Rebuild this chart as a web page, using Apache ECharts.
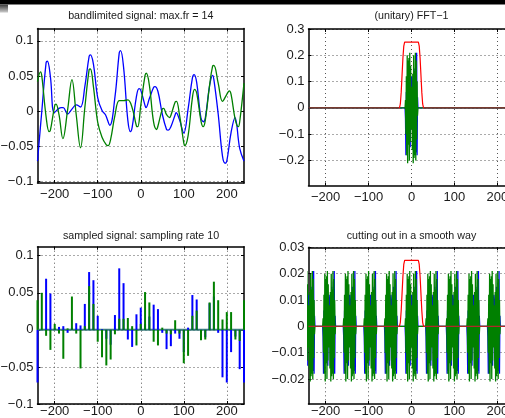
<!DOCTYPE html>
<html><head><meta charset="utf-8">
<style>html,body{margin:0;padding:0;background:#fff}#c{width:505px;height:418px}</style>
<script src="https://cdn.jsdelivr.net/npm/echarts@6/dist/echarts.min.js"></script>
</head><body><div id="c"></div>
<script>
// ---- data ----
const xTicks = [-200, -100, 0, 100, 200];
const yTicksTL = [-0.1, -0.05, 0, 0.05, 0.1];
const yTicksTR = [-0.2, -0.1, 0, 0.1, 0.2, 0.3];
const yTicksBL = [-0.1, -0.05, 0, 0.05, 0.1];
const yTicksBR = [-0.02, -0.01, 0, 0.01, 0.02, 0.03];

// bandlimited signal (knots)
const blueCurve = [[-240,-0.071],[-230,0.0],[-220,0.069],[-217,0.071],[-210,0.049],[-201,-0.002],[-190,0.004],[-185,0.005],[-180,0.005],[-170,-0.004],[-160,0.003],[-150,0.009],[-140,0.006],[-130,0.035],[-120,0.078],[-117,0.080],[-110,0.067],[-100,0.019],[-90,0.001],[-82,-0.005],[-72,-0.020],[-60,0.020],[-50,0.083],[-47,0.086],[-40,0.063],[-30,-0.013],[-24,-0.029],[-20,-0.023],[-10,0.021],[-4,0.032],[0,0.030],[10,0.008],[12,0.005],[20,0.018],[30,0.034],[33,0.035],[40,0.028],[50,-0.004],[60,-0.026],[64,-0.027],[70,-0.022],[80,-0.005],[82,-0.002],[90,-0.012],[100,-0.031],[110,0.003],[120,0.047],[124,0.052],[130,0.041],[140,-0.010],[146,-0.015],[150,-0.010],[160,0.036],[167,0.051],[170,0.045],[180,-0.004],[190,-0.064],[196,-0.074],[200,-0.071],[210,-0.030],[219,-0.009],[230,-0.053],[240,-0.071]];
const greenCurve = [[-240,0.042],[-233,0.056],[-230,0.050],[-220,-0.008],[-213,-0.029],[-210,-0.027],[-200,0.008],[-197,0.010],[-190,-0.005],[-181,-0.039],[-170,0.002],[-160,0.045],[-150,-0.005],[-140,-0.052],[-130,0.005],[-120,0.059],[-117,0.060],[-110,0.035],[-100,-0.016],[-90,-0.037],[-80,-0.048],[-76,-0.049],[-70,-0.040],[-60,-0.006],[-50,0.015],[-40,0.015],[-30,0.016],[-20,0.005],[-10,-0.021],[-7,-0.022],[0,0.008],[10,0.051],[13,0.054],[20,0.037],[30,-0.016],[37,-0.026],[40,-0.021],[50,0.003],[53,0.004],[60,-0.005],[67,-0.009],[70,-0.006],[80,0.013],[83,0.014],[90,-0.005],[100,-0.045],[102,-0.049],[110,-0.035],[120,0.019],[125,0.031],[130,0.026],[140,-0.014],[145,-0.022],[150,-0.013],[160,0.037],[167,0.064],[170,0.065],[180,0.040],[190,0.014],[200,0.024],[206,0.029],[210,0.024],[220,-0.013],[227,-0.022],[230,-0.015],[240,0.040]];

// sampled signal, every 10 units
const sampleX = [-240,-230,-220,-210,-200,-190,-180,-170,-160,-150,-140,-130,-120,-110,-100,-90,-80,-70,-60,-50,-40,-30,-20,-10,0,10,20,30,40,50,60,70,80,90,100,110,120,130,140,150,160,170,180,190,200,210,220,230,240];
const blueSamples = [-0.071,0.000,0.069,0.049,0.002,0.004,0.005,-0.004,0.003,0.009,0.006,0.035,0.078,0.067,0.019,0.001,-0.012,-0.020,0.020,0.083,0.063,-0.013,-0.023,0.021,0.030,0.008,0.018,0.034,0.028,-0.004,-0.026,-0.022,-0.005,-0.012,-0.030,0.003,0.047,0.041,-0.010,-0.010,0.036,0.045,-0.004,-0.064,-0.071,-0.030,-0.009,-0.053,-0.071];
const greenSamples = [0.040,0.050,-0.008,-0.027,0.008,-0.005,-0.039,0.002,0.045,-0.005,-0.052,0.005,0.059,0.035,-0.016,-0.037,-0.048,-0.040,-0.006,0.015,0.015,0.016,0.005,-0.021,0.008,0.051,0.037,-0.016,-0.021,0.003,-0.005,-0.006,0.013,-0.005,-0.045,-0.035,0.019,0.026,-0.014,-0.013,0.037,0.065,0.040,0.014,0.024,0.024,-0.013,-0.015,0.040];

// unitary FFT, frequencies -14..14
const fftK = [-14,-13,-12,-11,-10,-9,-8,-7,-6,-5,-4,-3,-2,-1,0,1,2,3,4,5,6,7,8,9,10,11,12,13,14];
const blueFFT = [-0.04,-0.18,0.06,-0.17,0.10,-0.12,0.07,-0.10,0.15,-0.08,0.12,-0.15,0.06,0.10,0.12,0.10,0.06,-0.15,0.12,-0.08,0.15,-0.10,0.07,-0.12,0.17,-0.17,0.21,-0.18,0.04];
const greenFFT = [0.03,-0.10,0.12,-0.18,0.20,-0.21,0.18,-0.14,0.19,-0.20,0.21,-0.13,0.16,-0.08,0,0.08,-0.16,0.13,-0.21,0.20,-0.19,0.14,-0.18,0.21,-0.20,0.18,-0.12,0.10,-0.03];
const windowTop = [[-240,0],[-28,0],[-26,0.015],[-24,0.06],[-22,0.125],[-20,0.19],[-18,0.235],[-16,0.25],[16,0.25],[18,0.235],[20,0.19],[22,0.125],[24,0.06],[26,0.015],[28,0],[240,0]];

// spectrum of sampled signal: one burst (x0.1) repeated every 48
const burstCenters = [-240,-192,-144,-96,-48,0,48,96,144,192,240];
const blueBurst = [-0.004,-0.018,0.006,-0.017,0.010,-0.012,0.007,-0.010,0.015,-0.008,0.012,-0.015,0.006,0.010,0.012,0.010,0.006,-0.015,0.012,-0.008,0.015,-0.010,0.007,-0.012,0.017,-0.017,0.021,-0.018,0.004];
const greenBurst = [0.003,-0.010,0.012,-0.018,0.020,-0.021,0.018,-0.014,0.019,-0.020,0.021,-0.013,0.016,-0.008,0,0.008,-0.016,0.013,-0.021,0.020,-0.019,0.014,-0.018,0.021,-0.020,0.018,-0.012,0.010,-0.003];
const windowBottom = [[-240,0],[-28,0],[-26,0.0015],[-24,0.006],[-22,0.0125],[-20,0.019],[-18,0.0235],[-16,0.025],[16,0.025],[18,0.0235],[20,0.019],[22,0.0125],[24,0.006],[26,0.0015],[28,0],[240,0]];

// ---- build ----
function spectrumLine(vals) {
  const d = [[-240, 0], [fftK[0] - 1, 0]];
  fftK.forEach((k, i) => d.push([k, vals[i]]));
  d.push([fftK[fftK.length - 1] + 1, 0], [240, 0]);
  return d;
}
function burstLine(vals) {
  const d = [];
  burstCenters.forEach(c => {
    d.push([c + fftK[0] - 1, 0]);
    fftK.forEach((k, i) => d.push([c + k, vals[i]]));
    d.push([c + fftK[fftK.length - 1] + 1, 0]);
  });
  return d;
}
const fmt = v => (Math.abs(v) < 1e-12 ? '0' : String(v)).replace('-', '\u2212');
const FONT = 'Liberation Sans, Arial, Helvetica, sans-serif';
const grids = [
  {left: 37.5, top: 28.5, width: 206.5, height: 154.5, ymin: -0.1021, ymax: 0.1176, yt: yTicksTL},
  {left: 308.5, top: 29, width: 206, height: 156.5, ymin: -0.295, ymax: 0.3, yt: yTicksTR},
  {left: 37.5, top: 246.7, width: 206.5, height: 157.3, ymin: -0.1, ymax: 0.1122, yt: yTicksBL},
  {left: 308.5, top: 247.3, width: 206, height: 156.7, ymin: -0.0295, ymax: 0.03, yt: yTicksBR}
];
// red window: bright where raised, darker (blended) where it lies on the zero line
function windowColor(g, dark) {
  const a = (-28 + 240) / 480, b = (28 + 240) / 480;
  return new echarts.graphic.LinearGradient(g.left, 0, g.left + g.width, 0, [
    {offset: 0, color: dark}, {offset: a - 0.002, color: dark}, {offset: a, color: '#ff0000'},
    {offset: b, color: '#ff0000'}, {offset: b + 0.002, color: dark}, {offset: 1, color: dark}], true);
}
const axLine = {show: true, onZero: false, lineStyle: {color: '#000', width: 1.5}};
const split = {show: true, lineStyle: {color: '#555', width: 1, type: [1, 3]}};
const xAxis = [], yAxis = [];
grids.forEach((g, i) => {
  xAxis.push({type: 'value', gridIndex: i, min: -240, max: 240, position: 'bottom', axisLine: axLine,
    axisTick: {show: true, inside: true, length: 3, customValues: xTicks, lineStyle: {color: '#000'}},
    axisLabel: {customValues: xTicks, formatter: fmt, color: '#1a1a1a', fontSize: 13, fontFamily: FONT, margin: i < 2 ? 5 : 1, hideOverlap: false},
    splitLine: split});
  xAxis.push({type: 'value', gridIndex: i, min: -240, max: 240, position: 'top', axisLine: axLine,
    axisTick: {show: true, inside: true, length: 3, customValues: xTicks, lineStyle: {color: '#000'}},
    axisLabel: {show: false}, splitLine: {show: false}});
  yAxis.push({type: 'value', gridIndex: i, min: g.ymin, max: g.ymax, position: 'left', axisLine: axLine,
    axisTick: {show: true, inside: true, length: 3, customValues: g.yt, lineStyle: {color: '#000'}},
    axisLabel: {customValues: g.yt, formatter: fmt, color: '#1a1a1a', fontSize: 13, fontFamily: FONT, margin: 4},
    splitLine: split});
  yAxis.push({type: 'value', gridIndex: i, min: g.ymin, max: g.ymax, position: 'right', axisLine: axLine,
    axisTick: {show: true, inside: true, length: 3, customValues: g.yt, lineStyle: {color: '#000'}},
    axisLabel: {show: false}, splitLine: {show: false}});
});
const line = (gi, data, color, extra) => Object.assign({type: 'line', xAxisIndex: gi * 2, yAxisIndex: gi * 2, data,
  showSymbol: false, symbol: 'none', lineStyle: {color, width: 1.3}, itemStyle: {color}, silent: true, z: 2}, extra || {});
const series = [
  line(0, blueCurve, '#0000ff', {smooth: 0.4}),
  line(0, greenCurve, '#008000', {smooth: 0.4}),
  line(1, spectrumLine(blueFFT), '#0000ff'),
  line(1, spectrumLine(greenFFT), '#008000'),
  line(1, windowTop, '#ff0000', {lineStyle: {color: windowColor(grids[1], '#9a2a2a'), width: 1.2}}),
  line(2, [[-240, 0], [240, 0]], '#3f8080', {lineStyle: {color: '#3f8080', width: 2}}),
  {type: 'bar', xAxisIndex: 4, yAxisIndex: 4, data: sampleX.map((x, i) => [x, blueSamples[i]]), barWidth: 2, barGap: '-100%', itemStyle: {color: '#0000ff'}, silent: true, z: 3},
  {type: 'bar', xAxisIndex: 4, yAxisIndex: 4, data: sampleX.map((x, i) => [x, greenSamples[i]]), barWidth: 2, barGap: '-100%', itemStyle: {color: '#008000'}, silent: true, z: 3},
  line(3, burstLine(blueBurst), '#0000ff'),
  line(3, burstLine(greenBurst), '#008000'),
  line(3, windowBottom, '#ff0000', {lineStyle: {color: windowColor(grids[3], '#b02828'), width: 1.2}})
];
const titles = [
  ['bandlimited signal: max.fr = 14', 140.8, 15.7],
  ['(unitary) FFT\u22121', 411.5, 16.5],
  ['sampled signal: sampling rate 10', 141, 235.7],
  ['cutting out in a smooth way', 411.5, 235.7]
];
const graphic = [
  {type: 'rect', shape: {x: 0, y: 0, width: 505, height: 4.6}, style: {fill: '#000'}, z: 100},
  {type: 'rect', shape: {x: 0, y: 4.6, width: 8, height: 8}, style: {fill: new echarts.graphic.LinearGradient(0, 0, 0, 1, [{offset: 0, color: '#3a3a3a'}, {offset: 1, color: '#d0d0d0'}])}, z: 100}
].concat(titles.map(t => ({type: 'text', x: t[1], y: t[2], style: {text: t[0], fill: '#1a1a1a', font: '10.7px ' + FONT, textAlign: 'center', textVerticalAlign: 'middle'}, z: 100})));
const chart = echarts.init(document.getElementById('c'), null, {renderer: 'canvas'});
chart.setOption({animation: false,
  grid: grids.map(g => ({left: g.left, top: g.top, width: g.width, height: g.height, containLabel: false, outerBoundsMode: 'none'})),
  xAxis, yAxis, series, graphic});
</script></body></html>
